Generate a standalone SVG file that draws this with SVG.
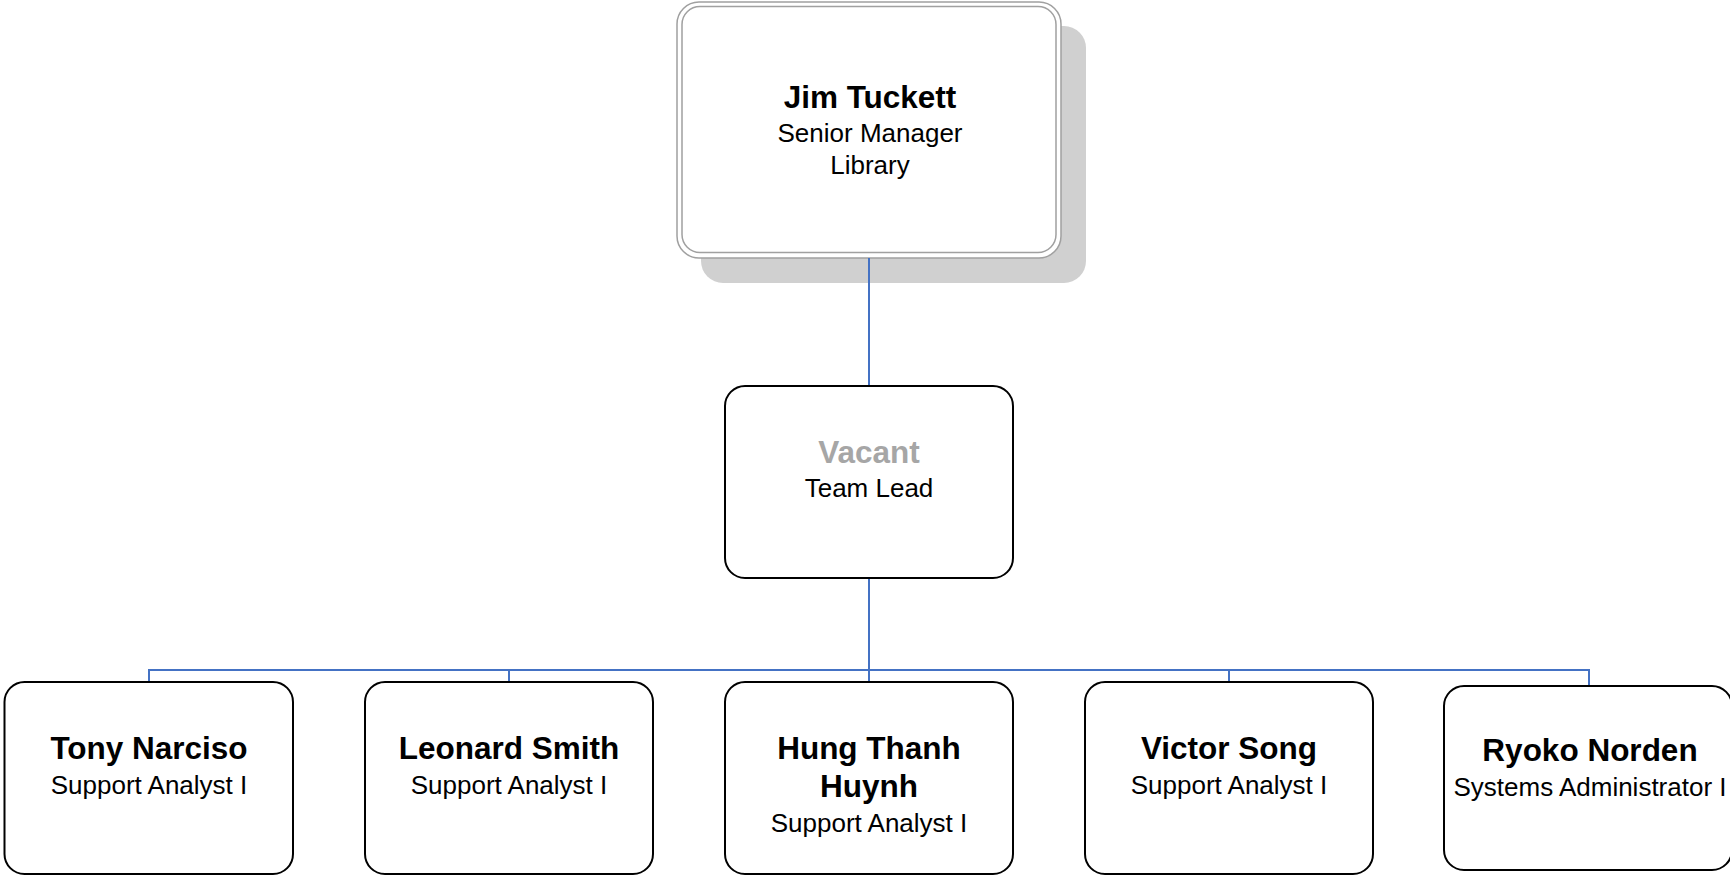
<svg xmlns="http://www.w3.org/2000/svg" width="1730" height="875" viewBox="0 0 1730 875">
<style>
.box{fill:#ffffff;stroke:#000000;stroke-width:2}
.name{font-family:"Liberation Sans",Arial,sans-serif;font-weight:bold;font-size:31.5px;fill:#000000;text-anchor:middle}
.title{font-family:"Liberation Sans",Arial,sans-serif;font-size:26px;fill:#000000;text-anchor:middle}
.vacant{fill:#a6a6a6}
.conn{fill:none;stroke:#4472c4;stroke-width:2}
</style>
<rect x="0" y="0" width="1730" height="875" fill="#ffffff"/>
<g id="node-jim-tuckett">
<rect x="701" y="26" width="385" height="257" rx="22" fill="#d0d0d0"/>
<rect x="677" y="2" width="384" height="256" rx="22" fill="#ffffff" stroke="#a0a0a0" stroke-width="1.5"/>
<rect x="682" y="6.5" width="374" height="246" rx="18" fill="none" stroke="#a0a0a0" stroke-width="1.5"/>
<text class="name" x="870" y="108">Jim Tuckett</text>
<text class="title" x="870" y="141.5">Senior Manager</text>
<text class="title" x="870" y="173.5">Library</text>
</g>
<g id="node-vacant">
<rect class="box" x="725" y="386" width="288" height="192" rx="20"/>
<text class="name vacant" x="869" y="463">Vacant</text>
<text class="title" x="869" y="497">Team Lead</text>
</g>
<g id="node-tony-narciso">
<rect class="box" x="4.5" y="682" width="288.5" height="192" rx="20"/>
<text class="name" x="149" y="759">Tony Narciso</text>
<text class="title" x="149" y="794">Support Analyst I</text>
</g>
<g id="node-leonard-smith">
<rect class="box" x="365" y="682" width="288" height="192" rx="20"/>
<text class="name" x="509" y="759">Leonard Smith</text>
<text class="title" x="509" y="794">Support Analyst I</text>
</g>
<g id="node-hung-thanh-huynh">
<rect class="box" x="725" y="682" width="288" height="192" rx="20"/>
<text class="name" x="869" y="759">Hung Thanh</text>
<text class="name" x="869" y="797">Huynh</text>
<text class="title" x="869" y="832">Support Analyst I</text>
</g>
<g id="node-victor-song">
<rect class="box" x="1085" y="682" width="288" height="192" rx="20"/>
<text class="name" x="1229" y="759">Victor Song</text>
<text class="title" x="1229" y="794">Support Analyst I</text>
</g>
<g id="node-ryoko-norden">
<rect class="box" x="1444" y="686" width="288" height="184" rx="20"/>
<text class="name" x="1590" y="761">Ryoko Norden</text>
<text class="title" x="1590" y="796">Systems Administrator I</text>
</g>
<g id="connectors">
<line class="conn" x1="869" y1="258" x2="869" y2="385"/>
<line class="conn" x1="869" y1="579" x2="869" y2="681"/>
<polyline class="conn" points="149,681 149,670 1589,670 1589,685"/>
<line class="conn" x1="509" y1="670" x2="509" y2="681"/>
<line class="conn" x1="1229" y1="670" x2="1229" y2="681"/>
</g>
</svg>
